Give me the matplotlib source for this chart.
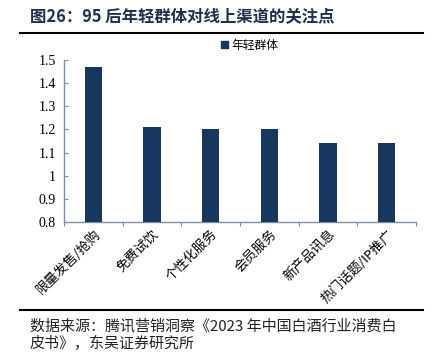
import matplotlib.pyplot as plt
import matplotlib.lines as mlines
import matplotlib.patches as mpatches

plt.rcParams['font.family'] = ['Noto Sans CJK SC', 'DejaVu Sans']

categories = ['限量发售/抢购', '免费试饮', '个性化服务', '会员服务', '新产品讯息', '热门话题/IP推广']
values = [1.47, 1.21, 1.20, 1.20, 1.14, 1.14]
series_name = '年轻群体'
yticks = [0.8, 0.9, 1, 1.1, 1.2, 1.3, 1.4, 1.5]
ytick_labels = ['0.8', '0.9', '1', '1.1', '1.2', '1.3', '1.4', '1.5']

bar_color = '#17375e'
spine_color = '#7f8ea8'

fig = plt.figure(figsize=(4.33, 3.52), dpi=100)
ax = fig.add_axes([64/433, 1-222/352, (416-64)/433, (222-60)/352])

x = range(len(categories))
ax.bar(x, values, width=0.3, color=bar_color, zorder=3)

ax.set_xlim(-0.5, len(categories) - 0.5)
ax.set_ylim(0.8, 1.5)
ax.set_yticks(yticks)
ax.set_yticklabels(ytick_labels, family='Liberation Serif', fontsize=10)
ax.set_xticks([i + 0.5 for i in range(-1, len(categories))], minor=False)
ax.set_xticklabels([])
ax.set_xticks(list(x), minor=True)
ax.set_xticklabels(categories, minor=True, rotation=45, ha='right', va='top',
                   rotation_mode='anchor', fontsize=9.5)
ax.tick_params(axis='x', which='minor', length=0, pad=4)
ax.tick_params(axis='x', which='major', length=3, direction='out', color=spine_color)
ax.tick_params(axis='y', length=3, direction='in', color=spine_color, pad=6)

for s in ['top', 'right']:
    ax.spines[s].set_visible(False)
for s in ['left', 'bottom']:
    ax.spines[s].set_color(spine_color)
    ax.spines[s].set_linewidth(1.0)

handle = mpatches.Patch(color=bar_color, label=series_name)
fig.legend(handles=[handle], loc='center', bbox_to_anchor=(250/433, 1-45/352),
           frameon=False, fontsize=8.5, handlelength=0.6, handleheight=0.6,
           handletextpad=0.3)

fig.text(30/433, 1-17/352, '图26：95 后年轻群体对线上渠道的关注点', fontsize=11.8,
         fontweight='bold', color='#1f2f4f', va='center', ha='left')

fig.add_artist(mlines.Line2D([20/433, 423/433], [1-33/352, 1-33/352], color='black', lw=1.5))
fig.add_artist(mlines.Line2D([20/433, 423/433], [1-310/352, 1-310/352], color='black', lw=1.5))

fig.text(30/433, 1-326/352, '数据来源：腾讯营销洞察《2023 年中国白酒行业消费白', fontsize=10.8,
         color='#222222', va='center', ha='left')
fig.text(30/433, 1-343/352, '皮书》，东吴证券研究所', fontsize=10.8,
         color='#222222', va='center', ha='left')

fig.savefig('out.png', dpi=100)
